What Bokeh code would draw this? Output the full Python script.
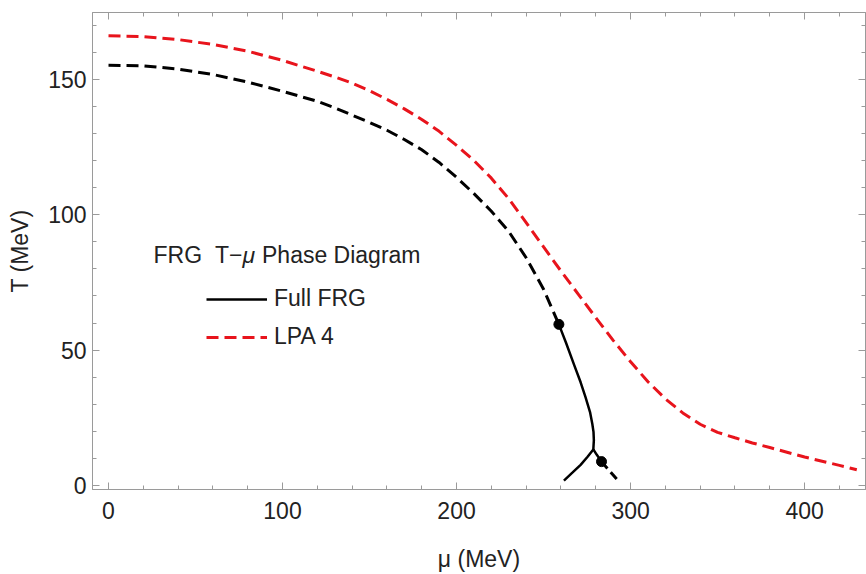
from bokeh.plotting import figure
from bokeh.models import Range1d, LinearAxis, Legend, LegendItem, Label, FixedTicker
from bokeh.embed import file_html
from bokeh.resources import INLINE

# ---- data ----
# Full FRG crossover (dashed black)
mu_crossover = [0, 20, 40, 60, 80, 100, 120, 130, 140, 150, 160, 170, 180, 190, 200, 210,
                220, 230, 240, 250, 258.8]
T_crossover = [155.2, 155.0, 153.8, 151.8, 149.0, 145.6, 141.9, 139.5, 136.8, 134.1, 131.2,
               127.8, 124.0, 119.3, 113.8, 107.8, 101.3, 93.8, 84.1, 72.5, 59.5]
# Full FRG first-order line (solid black): upper CEP -> turning point -> back to T = 0
mu_first = [258.8, 262.9, 267.4, 271.3, 274.1, 276.7, 278.0, 278.7, 278.9, 278.6,
            275.3, 271.3, 266.7, 261.7]
T_first = [59.5, 52.7, 44.8, 38.1, 32.6, 27.1, 22.8, 19.8, 16.7, 13.3,
           10.6, 7.6, 4.8, 1.8]
# branch from the turning point to the lower critical point (solid black)
mu_branch = [278.6, 280.5, 283.3]
T_branch = [13.3, 11.4, 8.8]
# crossover below the lower critical point (dashed black)
mu_low = [283.3, 288.3, 293.3]
T_low = [8.8, 5.1, 1.5]
# critical points
mu_cep = [258.8, 283.3]
T_cep = [59.5, 8.8]
# LPA 4 (dashed red)
mu_lpa = [0, 20, 40, 60, 80, 100, 120, 130, 140, 150, 160, 170, 180, 190, 200, 210, 220,
          230, 240, 250, 260, 270, 280, 290, 300, 310, 320, 330, 340, 350, 360, 370, 380,
          400, 420, 430]
T_lpa = [166.1, 165.8, 164.7, 162.9, 160.4, 157.0, 153.0, 150.9, 148.6, 145.8, 142.6, 139.1,
         135.2, 130.8, 125.6, 120.0, 113.5, 105.9, 97.1, 88.1, 79.2, 70.6, 62.0, 53.6, 45.7,
         38.3, 32.0, 26.8, 22.6, 19.6, 17.6, 15.7, 14.0, 10.5, 7.4, 5.8]

x_major = [0, 100, 200, 300, 400]
y_major = [0, 50, 100, 150]

FONT = "Liberation Sans"
FS = "23px"
FRAME = "#9a9a9a"
TXT = "#222222"

p = figure(width=866, height=574, output_backend="svg", toolbar_location=None,
           x_range=Range1d(-9.2, 435), y_range=Range1d(-1.5, 174.7),
           min_border_left=92, min_border_right=1, min_border_top=12, min_border_bottom=81,
           x_axis_label="μ (MeV)", y_axis_label="T (MeV)")
p.xgrid.visible = False
p.ygrid.visible = False
p.outline_line_color = FRAME
p.background_fill_color = "white"
p.border_fill_color = "white"

xt = FixedTicker(ticks=x_major, minor_ticks=list(range(-20, 460, 20)))
yt = FixedTicker(ticks=y_major, minor_ticks=list(range(-10, 180, 10)))

def style_axis(ax, labels=True):
    ax.axis_line_color = FRAME
    ax.major_tick_line_color = FRAME
    ax.minor_tick_line_color = FRAME
    ax.major_tick_in = 7
    ax.major_tick_out = 0
    ax.minor_tick_in = 4
    ax.minor_tick_out = 0
    ax.major_label_text_font = FONT
    ax.axis_label_text_font = FONT
    ax.axis_label_text_font_style = "normal"
    ax.axis_label_text_color = TXT
    ax.axis_label_text_font_size = FS
    if labels:
        ax.major_label_text_font_size = FS
        ax.major_label_text_color = TXT
    else:
        ax.major_label_text_font_size = "1px"
        ax.major_label_text_color = None
        ax.major_label_standoff = 0

p.xaxis.ticker = xt
p.yaxis.ticker = yt
style_axis(p.xaxis[0])
style_axis(p.yaxis[0])
p.xaxis.major_label_standoff = 12
p.xaxis.axis_label_standoff = 24
p.yaxis.major_label_standoff = 6
p.yaxis.axis_label_standoff = 12

top = LinearAxis(ticker=xt)
right = LinearAxis(ticker=yt)
style_axis(top, labels=False)
style_axis(right, labels=False)
p.add_layout(top, "above")
p.add_layout(right, "right")

# ---- curves ----
p.line(mu_crossover, T_crossover, line_color="black", line_width=3, line_dash="12 6")
first = p.line(mu_first, T_first, line_color="black", line_width=2.5)
p.line(mu_branch, T_branch, line_color="black", line_width=2.5)
p.line(mu_low, T_low, line_color="black", line_width=3, line_dash="9 5")
p.scatter(mu_cep, T_cep, size=10, color="black")
lpa = p.line(mu_lpa, T_lpa, line_color="#e8141c", line_width=3, line_dash="12 6")

# ---- legend ----
legend = Legend(items=[LegendItem(label="Full FRG", renderers=[first]),
                       LegendItem(label="LPA 4", renderers=[lpa])],
                location=(114, 139), border_line_color=None, background_fill_alpha=0,
                glyph_width=61, glyph_height=26, label_height=26, spacing=11,
                padding=0, margin=0, label_standoff=7,
                label_text_font_size=FS, label_text_font=FONT, label_text_color=TXT)
p.add_layout(legend)

ty = 235
common = dict(x_units="screen", y_units="screen", text_baseline="middle",
              text_font=FONT, text_font_size=FS, text_color=TXT)
p.add_layout(Label(x=61, y=ty, text="FRG", **common))
p.add_layout(Label(x=122.4, y=ty, text="T−", **common))
p.add_layout(Label(x=149.9, y=ty, text="μ", text_font_style="italic", **common))
p.add_layout(Label(x=169.5, y=ty, text="Phase Diagram", **common))

open("out.html", "w").write(file_html(p, INLINE))
